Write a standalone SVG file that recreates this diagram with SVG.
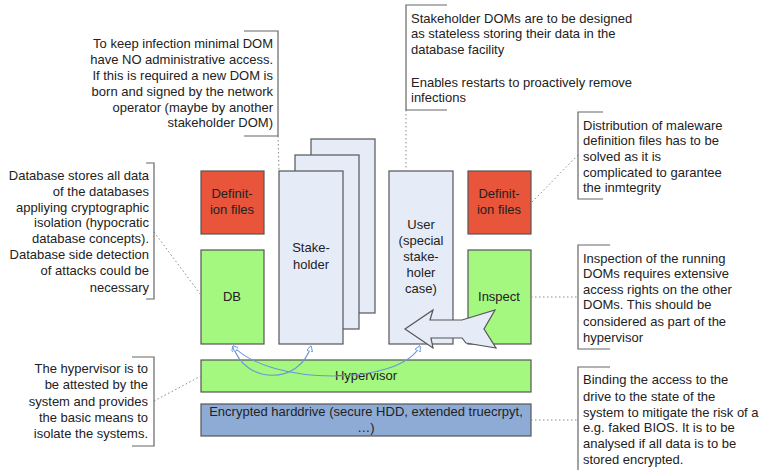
<svg xmlns="http://www.w3.org/2000/svg" width="764" height="470" viewBox="0 0 764 470">
<defs>
<style>
text{font-family:"Liberation Sans",Arial,sans-serif;font-size:13px;fill:#222}
.c{text-anchor:middle}
.r{text-anchor:end}
.box{stroke:#555;stroke-width:1.2}
.red{fill:#e8553a}
.green{fill:#a4f77f}
.pale{fill:#e6ecf7}
.hdd{fill:#8eabd6}
.br{fill:none;stroke:#666;stroke-width:1.2}
.dot{fill:none;stroke:#888;stroke-width:1;stroke-dasharray:1.5 2.5}
.link{fill:none;stroke:#6d95d8;stroke-width:1.1}
</style>
<marker id="ah" viewBox="0 0 10 10" refX="9" refY="5" markerWidth="6" markerHeight="6" orient="auto-start-reverse" markerUnits="userSpaceOnUse">
<path d="M0,0 L10,5 L0,10 z" fill="#fff" stroke="#6d95d8" stroke-width="1.5"/>
</marker>
</defs>
<rect width="764" height="470" fill="#fff"/>

<g id="stake3"><rect class="box pale" x="311" y="139" width="64" height="174"/></g>
<g id="stake2"><rect class="box pale" x="295" y="155" width="64" height="174"/></g>
<g id="stakeholder"><rect class="box pale" x="279" y="171" width="64" height="173"/>
<text class="c" x="311" y="252">Stake-</text><text class="c" x="311" y="269">holder</text></g>

<g id="defs-left"><rect class="box red" x="201" y="171" width="63" height="63"/>
<text class="c" x="232" y="198">Definit-</text><text class="c" x="232" y="214">ion files</text></g>
<g id="db"><rect class="box green" x="201" y="250" width="63" height="94"/>
<text class="c" x="232" y="301">DB</text></g>

<g id="user"><rect class="box pale" x="389" y="171" width="64" height="173"/>
<text class="c" x="421" y="229">User</text><text class="c" x="421" y="245">(special</text><text class="c" x="421" y="261">stake-</text><text class="c" x="421" y="277">holer</text><text class="c" x="421" y="293">case)</text></g>

<g id="defs-right"><rect class="box red" x="468" y="171" width="63" height="63"/>
<text class="c" x="499" y="198">Definit-</text><text class="c" x="499" y="214">ion files</text></g>
<g id="inspect"><rect class="box green" x="468" y="250" width="63" height="94"/>
<text class="c" x="499" y="301">Inspect</text></g>

<g id="inspect-arrow"><polygon class="box pale" points="405,329 433,310 430,320 462,320 495,310 484,329 496,348 466,343 462,338 431,338 433,348"/></g>

<g id="hypervisor"><rect class="box green" x="201" y="360" width="330" height="32"/>
<text class="c" x="366" y="380">Hypervisor</text></g>
<g id="harddrive"><rect class="box hdd" x="201" y="404" width="330" height="32"/>
<text class="c" x="366" y="416">Encrypted harddrive (secure HDD, extended truecrpyt,</text><text class="c" x="366" y="432">…)</text></g>

<g id="connectors">
<path class="link" d="M233,346 C245,385 300,385 311,346" marker-start="url(#ah)" marker-end="url(#ah)"/>
<path class="link" d="M233,346 C270,386 400,386 420,346" marker-start="url(#ah)" marker-end="url(#ah)"/>
<path class="dot" d="M278,136 L279,171"/>
<path class="dot" d="M406,110 L406,171"/>
<path class="dot" d="M578,155 L532,202"/>
<path class="dot" d="M154,232 L201,295"/>
<path class="dot" d="M154,401 L201,376"/>
<path class="dot" d="M531,297 L578,297"/>
<path class="dot" d="M531,420 L578,420"/>
</g>

<g id="note-infection">
<path class="br" d="M244,31 H278 V136 H244"/>
<text class="r" x="273" y="48">To keep infection minimal DOM</text>
<text class="r" x="273" y="64">have NO administrative access.</text>
<text class="r" x="273" y="80">If this is required a new DOM is</text>
<text class="r" x="273" y="96">born and signed by the network</text>
<text class="r" x="273" y="112">operator (maybe by another</text>
<text class="r" x="273" y="127">stakeholder DOM)</text>
</g>

<g id="note-stateless">
<path class="br" d="M447,5 H406 V110 H447"/>
<text x="411" y="23">Stakeholder DOMs are to be designed</text>
<text x="411" y="38">as stateless storing their data in the</text>
<text x="411" y="54">database facility</text>
<text x="411" y="87">Enables restarts to proactively remove</text>
<text x="411" y="102">infections</text>
</g>

<g id="note-distribution">
<path class="br" d="M603,112 H578 V199 H603"/>
<text x="583" y="130">Distribution of maleware</text>
<text x="583" y="145">definition files has to be</text>
<text x="583" y="161">solved as it is</text>
<text x="583" y="177">complicated to garantee</text>
<text x="583" y="192">the inmtegrity</text>
</g>

<g id="note-database">
<path class="br" d="M146,163 H154 V299 H146"/>
<text class="r" x="149" y="180">Database stores all data</text>
<text class="r" x="149" y="196">of the databases</text>
<text class="r" x="149" y="212">appliying cryptographic</text>
<text class="r" x="149" y="227">isolation (hypocratic</text>
<text class="r" x="149" y="243">database concepts).</text>
<text class="r" x="149" y="259">Database side detection</text>
<text class="r" x="149" y="275">of attacks could be</text>
<text class="r" x="149" y="292">necessary</text>
</g>

<g id="note-hypervisor">
<path class="br" d="M132,357 H154 V446 H132"/>
<text class="r" x="148" y="373">The hypervisor is to</text>
<text class="r" x="148" y="389">be attested by the</text>
<text class="r" x="148" y="406">system and provides</text>
<text class="r" x="148" y="422">the basic means to</text>
<text class="r" x="148" y="438">isolate the systems.</text>
</g>

<g id="note-inspection">
<path class="br" d="M610,245 H578 V349 H610"/>
<text x="583" y="263">Inspection of the running</text>
<text x="583" y="278">DOMs requires extensive</text>
<text x="583" y="294">access rights on the other</text>
<text x="583" y="309">DOMs. This should be</text>
<text x="583" y="326">considered as part of the</text>
<text x="583" y="342">hypervisor</text>
</g>

<g id="note-binding">
<path class="br" d="M610,367 H578 V472"/>
<text x="583" y="384">Binding the access to the</text>
<text x="583" y="401">drive to the state of the</text>
<text x="583" y="417">system to mitigate the risk of a</text>
<text x="583" y="432">e.g. faked BIOS. It is to be</text>
<text x="583" y="448">analysed if all data is to be</text>
<text x="583" y="464">stored encrypted.</text>
</g>
</svg>
